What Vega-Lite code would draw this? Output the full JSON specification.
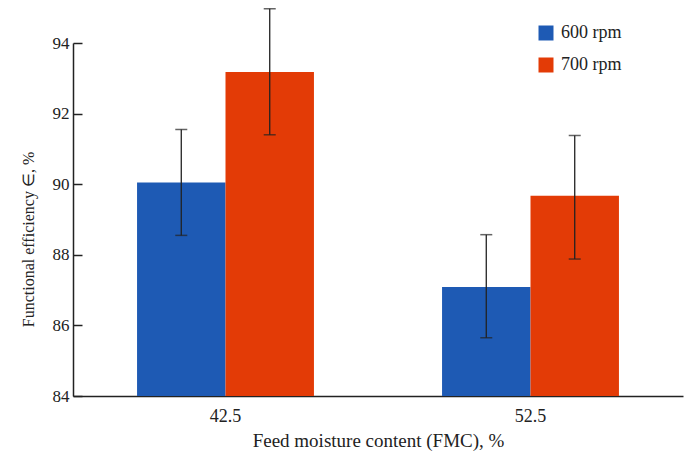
{
  "$schema": "https://vega.github.io/schema/vega-lite/v6.json",
  "width": 610,
  "height": 353,
  "autosize": {"type": "none"},
  "padding": {"left": 73, "top": 43, "right": 2, "bottom": 58},
  "background": "white",
  "config": {
    "view": {"stroke": null},
    "font": "Liberation Serif",
    "text": {"font": "Liberation Serif"},
    "legend": {"labelFont": "Liberation Serif"},
    "axis": {"labelFont": "Liberation Serif", "titleFont": "Liberation Serif", "labelColor": "#222", "titleColor": "#222", "domainColor": "#222", "tickColor": "#222", "grid": false, "labelFontSize": 17, "titleFontSize": 19, "titleFontWeight": "normal", "domainWidth": 1.5}
  },
  "data": {"values": [
    {"fmc": "42.5", "speed": "600 rpm", "eff": 90.05, "lo": 88.55, "hi": 91.55},
    {"fmc": "42.5", "speed": "700 rpm", "eff": 93.18, "lo": 91.4, "hi": 94.97},
    {"fmc": "52.5", "speed": "600 rpm", "eff": 87.09, "lo": 85.65, "hi": 88.57},
    {"fmc": "52.5", "speed": "700 rpm", "eff": 89.67, "lo": 87.88, "hi": 91.38}
  ]},
  "encoding": {
    "x": {"field": "fmc", "type": "nominal", "title": "Feed moisture content (FMC), %", "scale": {"paddingInner": 0.42, "paddingOuter": 0.21}, "axis": {"labelAngle": 0, "ticks": false, "labelPadding": 11, "labelFontSize": 18, "titlePadding": 6}},
    "xOffset": {"field": "speed", "type": "nominal", "scale": {"paddingInner": 0, "paddingOuter": 0}}
  },
  "layer": [
    {
      "mark": {"type": "bar", "clip": false},
      "encoding": {
        "y": {"field": "eff", "type": "quantitative", "title": "Functional efficiency ∈, %", "scale": {"domain": [84, 94], "nice": false, "zero": false}, "axis": {"values": [84, 86, 88, 90, 92, 94], "tickSize": -9, "tickWidth": 1.5, "labelPadding": 13, "titleFontSize": 16, "titlePadding": 16, "titleY": 196}},
        "y2": {"datum": 84},
        "color": {"field": "speed", "type": "nominal", "scale": {"range": ["#1E5AB4", "#E33B06"]},
          "legend": {"orient": "none", "legendX": 464, "legendY": -19, "title": null, "symbolType": "square", "symbolSize": 225, "symbolStrokeWidth": 0, "labelFontSize": 18, "labelFont": "Liberation Serif", "labelColor": "#222", "rowPadding": 14, "symbolOffset": 0, "labelOffset": 6}}
      }
    },
    {
      "mark": {"type": "rule", "color": "#222", "strokeWidth": 1.3},
      "encoding": {"y": {"field": "lo", "type": "quantitative"}, "y2": {"field": "hi"}}
    },
    {
      "mark": {"type": "tick", "color": "#222", "thickness": 1.5, "size": 12, "orient": "horizontal"},
      "encoding": {"y": {"field": "lo", "type": "quantitative"}}
    },
    {
      "mark": {"type": "tick", "color": "#222", "thickness": 1.5, "size": 12, "orient": "horizontal"},
      "encoding": {"y": {"field": "hi", "type": "quantitative"}}
    }
  ]
}
